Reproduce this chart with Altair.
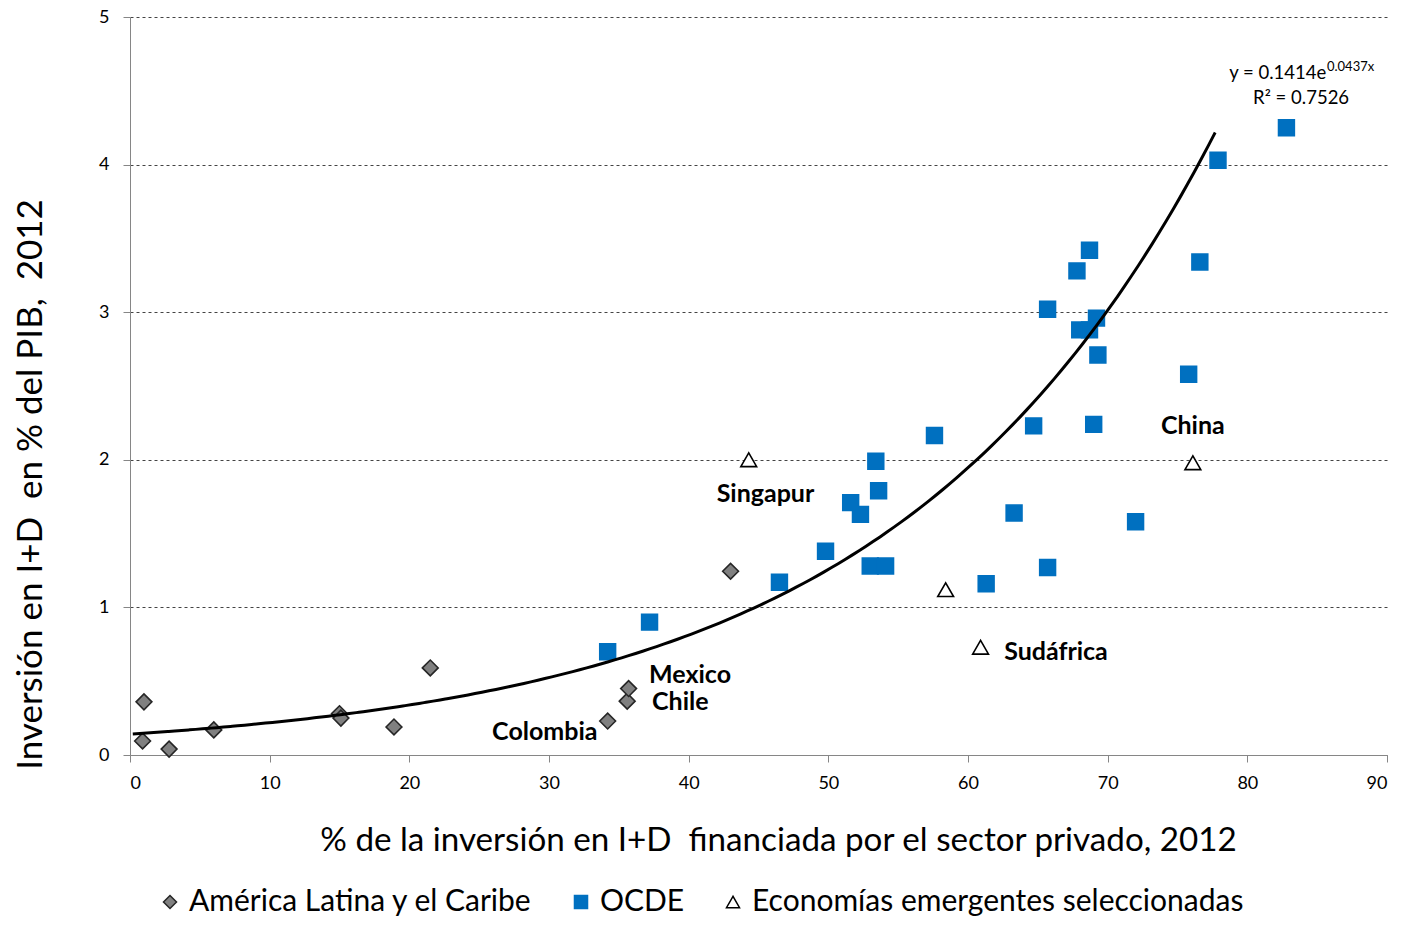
import altair as alt
import pandas as pd

# --- data ---
series_names = ["América Latina y el Caribe", "OCDE", "Economías emergentes seleccionadas"]

lac_x = [1.0, 0.9, 2.8, 6.0, 15.0, 15.1, 18.9, 21.5, 34.2, 35.6, 35.7, 43.0]
lac_y = [0.36, 0.095, 0.04, 0.17, 0.28, 0.25, 0.19, 0.59, 0.23, 0.365, 0.45, 1.245]

ocde_x = [34.2, 37.2, 46.5, 49.8, 51.6, 52.3, 53.4, 53.6, 53.0, 54.1, 57.6, 61.3, 63.3, 64.7,
          65.7, 65.7, 67.8, 68.7, 68.0, 68.7, 69.2, 69.3, 69.0, 72.0, 75.8, 76.6, 77.9, 82.8]
ocde_y = [0.70, 0.90, 1.17, 1.38, 1.71, 1.63, 1.99, 1.79, 1.28, 1.28, 2.165, 1.16, 1.64, 2.23,
          3.02, 1.27, 3.28, 3.42, 2.88, 2.88, 2.96, 2.71, 2.24, 1.58, 2.58, 3.34, 4.03, 4.25]

em_x = [44.3, 58.4, 60.9, 76.1]
em_y = [2.0, 1.12, 0.73, 1.98]

label_text = ["Singapur", "Sudáfrica", "China", "Mexico", "Chile", "Colombia"]
label_x = [45.5, 66.3, 76.1, 40.1, 39.4, 29.7]
label_y = [1.77, 0.70, 2.23, 0.54, 0.36, 0.155]

# trendline as printed on the chart: y = a * e^(b x), drawn over the x range shown
trend_a = 0.1414
trend_b = 0.0437
trend_r2 = 0.7526
trend_extent = [0.2, 77.7]

eq_main = "y = " + str(trend_a) + "e"
eq_sup = str(trend_b) + "x"
eq_r2 = "R² = " + str(trend_r2)

x_ticks = [0, 10, 20, 30, 40, 50, 60, 70, 80, 90]
y_ticks = [0, 1, 2, 3, 4, 5]

# --- tables ---
pts = pd.DataFrame({
    "x": lac_x + ocde_x + em_x,
    "y": lac_y + ocde_y + em_y,
    "serie": [series_names[0]] * len(lac_x) + [series_names[1]] * len(ocde_x) + [series_names[2]] * len(em_x),
})
labels = pd.DataFrame({"t": label_text, "x": label_x, "y": label_y})
eq = pd.DataFrame({"t": [eq_main, eq_sup, eq_r2], "x": [78.7, 85.7, 83.85], "y": [4.62, 4.66, 4.452],
                   "kind": ["main", "sup", "r2"]})

FONT = "Lato"
NB = "\u00a0"

xs = alt.Scale(domain=[0, 90], nice=False, zero=False)
ys = alt.Scale(domain=[0, 5], nice=False)

x_axis = alt.Axis(values=x_ticks, format="d",
                  title="% de la inversión en I+D " + NB + "financiada por el sector privado, 2012",
                  grid=False, tickSize=7, labelPadding=12, labelFontSize=18, titleFontSize=33.2,
                  titleFontWeight="normal", titleX=648, titleY=85, titleBaseline="middle",
                  domainColor="#868686", tickColor="#868686", labelColor="#000", titleColor="#000",
                  labelFont=FONT, titleFont=FONT)
y_axis = alt.Axis(values=y_ticks, format="d",
                  title="Inversión en I+D " + NB + "en % del PIB, " + NB + "2012",
                  grid=True, gridDash=[3, 3], gridColor="#444", gridWidth=1,
                  tickSize=7, labelPadding=14, labelFontSize=18, titleFontSize=35,
                  titleFontWeight="normal", titleAngle=-90, titleX=-100, titleY=467,
                  titleBaseline="middle", titleAlign="center",
                  domainColor="#868686", tickColor="#868686", labelColor="#000", titleColor="#000",
                  labelFont=FONT, titleFont=FONT)

points = alt.Chart(pts).mark_point(filled=False, size=250, strokeWidth=1.6, opacity=1).encode(
    x=alt.X("x:Q", scale=xs, axis=x_axis),
    y=alt.Y("y:Q", scale=ys, axis=y_axis),
    shape=alt.Shape("serie:N", scale=alt.Scale(domain=series_names, range=["diamond", "square", "triangle-up"]),
                    legend=alt.Legend(title=None, orient="none", legendX=25, legendY=870, direction="horizontal",
                                      labelFontSize=30, labelFont=FONT, labelColor="#000", columnPadding=33,
                                      symbolSize=170, labelOffset=4, symbolStrokeWidth=1.5, labelLimit=0,
                                      padding=0)),
    fill=alt.Fill("serie:N", scale=alt.Scale(domain=series_names, range=["#808080", "#0070C0", "#FFFFFF"]),
                  legend=None),
    stroke=alt.Stroke("serie:N", scale=alt.Scale(domain=series_names, range=["#262626", "#0070C0", "#000000"]),
                      legend=None),
)

trend = alt.Chart(alt.sequence(trend_extent[0], trend_extent[1] + 0.05, 0.5, as_="x")).transform_calculate(
    yy=f"{trend_a} * exp({trend_b} * datum.x)"
).mark_line(color="#000", strokeWidth=3, interpolate="monotone").encode(
    x=alt.X("x:Q", scale=xs), y=alt.Y("yy:Q", scale=ys))

lab = alt.Chart(labels).mark_text(font=FONT, fontSize=25, fontWeight="bold", color="#000").encode(
    x=alt.X("x:Q", scale=xs), y=alt.Y("y:Q", scale=ys), text="t:N")

eq_main_m = alt.Chart(eq).transform_filter(alt.datum.kind == "main").mark_text(
    font=FONT, fontSize=18.5, align="left", color="#000").encode(
    x=alt.X("x:Q", scale=xs), y=alt.Y("y:Q", scale=ys), text="t:N")
eq_sup_m = alt.Chart(eq).transform_filter(alt.datum.kind == "sup").mark_text(
    font=FONT, fontSize=13, align="left", color="#000").encode(
    x=alt.X("x:Q", scale=xs), y=alt.Y("y:Q", scale=ys), text="t:N")
eq_r2_m = alt.Chart(eq).transform_filter(alt.datum.kind == "r2").mark_text(
    font=FONT, fontSize=18.5, align="center", color="#000").encode(
    x=alt.X("x:Q", scale=xs), y=alt.Y("y:Q", scale=ys), text="t:N")

chart = alt.layer(points, trend, lab, eq_main_m, eq_sup_m, eq_r2_m).properties(
    width=1257, height=738,
    autosize=alt.AutoSizeParams(type="none"),
    padding={"left": 122, "top": 9, "right": 5, "bottom": 162},
).configure_view(stroke=None)

chart.save("out.html", embed_options={"renderer": "svg", "actions": False})
